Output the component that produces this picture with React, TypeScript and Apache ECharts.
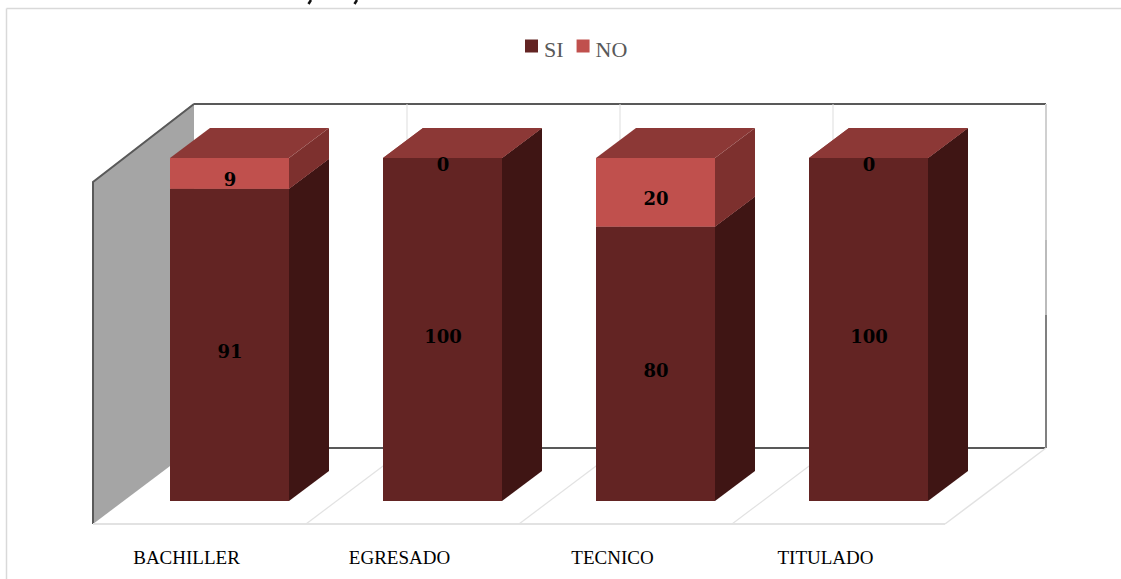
import React, { useEffect, useRef } from "react";
import * as echarts from "echarts";

const categories = ["BACHILLER", "EGRESADO", "TECNICO", "TITULADO"];
const siValues = [91, 100, 80, 100];
const noValues = [9, 0, 20, 0];

const DX = 40;
const DY = -30;
const BAR_RATIO = 119 / 213;

const COLORS = {
  si: { front: "#632423", side: "#3f1514", top: "#8f3b3a" },
  no: { front: "#c0504d", side: "#7d302e", top: "#8c3836" },
};

function makeRender(palette: { front: string; side: string; top: string }) {
  return (_params: any, api: any) => {
    const i = api.value(0);
    const start = api.value(1);
    const end = api.value(2);
    const [cx, y0] = api.coord([i, start]);
    const [, y1] = api.coord([i, end]);
    const w = api.size([1, 0])[0] * BAR_RATIO;
    const x0 = cx - w / 2;
    const x1 = cx + w / 2;
    const children: any[] = [
      {
        type: "rect",
        shape: { x: x0, y: y1, width: w, height: y0 - y1 },
        style: { fill: palette.front },
      },
      {
        type: "polygon",
        shape: { points: [[x1, y1], [x1 + DX, y1 + DY], [x1 + DX, y0 + DY], [x1, y0]] },
        style: { fill: palette.side },
      },
      {
        type: "polygon",
        shape: { points: [[x0, y1], [x0 + DX, y1 + DY], [x1 + DX, y1 + DY], [x1, y1]] },
        style: { fill: palette.top },
      },
      {
        type: "text",
        z2: 10,
        style: {
          x: cx + 0.5,
          y: (y0 + y1) / 2 + 6.5,
          text: String(end - start),
          fill: "#000",
          font: 'bold 18px "DejaVu Serif"',
          align: "center",
          verticalAlign: "middle",
        },
      },
    ];
    return { type: "group", children };
  };
}

const siData = siValues.map((v, i) => [i, 0, v]);
const noData = noValues.map((v, i) => [i, siValues[i], siValues[i] + v]);

export default function App() {
  const ref = useRef<HTMLDivElement>(null);
  useEffect(() => {
    document.body.style.margin = "0";
    const chart = echarts.init(ref.current!, null, { renderer: "svg" });
    const dark = "#595959";
    const light = "#e2e2e2";
    const divisions = [407, 620, 833];
    const g: any[] = [
      // outer frame
      { type: "line", shape: { x1: 6.5, y1: 8.5, x2: 1121, y2: 8.5 }, style: { stroke: "#d9d9d9", lineWidth: 1.5 } },
      { type: "line", shape: { x1: 6.5, y1: 8.5, x2: 6.5, y2: 579 }, style: { stroke: "#d9d9d9", lineWidth: 1.5 } },
      // clipped strokes of the cropped heading above the frame
      { type: "line", shape: { x1: 311, y1: 0, x2: 308.5, y2: 4 }, style: { stroke: "#111", lineWidth: 2.5 } },
      { type: "line", shape: { x1: 357, y1: 0, x2: 354.5, y2: 4 }, style: { stroke: "#111", lineWidth: 2.5 } },
      // left wall
      { type: "polygon", shape: { points: [[93, 182], [194, 103], [194, 448], [93, 524]] }, style: { fill: "#a5a5a5" } },
      { type: "polyline", shape: { points: [[93, 524], [93, 182], [194, 104]] }, style: { stroke: dark, lineWidth: 2, fill: "none" } },
      // back wall
      { type: "line", shape: { x1: 194, y1: 104, x2: 1046, y2: 104 }, style: { stroke: dark, lineWidth: 2 } },
      { type: "line", shape: { x1: 194, y1: 448, x2: 1046, y2: 448 }, style: { stroke: dark, lineWidth: 2 } },
      { type: "line", shape: { x1: 1046, y1: 104, x2: 1046, y2: 240 }, style: { stroke: "#d0d0d0", lineWidth: 2 } },
      { type: "line", shape: { x1: 1046, y1: 240, x2: 1046, y2: 315 }, style: { stroke: "#bbbbbb", lineWidth: 2 } },
      { type: "line", shape: { x1: 1046, y1: 315, x2: 1046, y2: 448 }, style: { stroke: "#808080", lineWidth: 2 } },
      // floor
      { type: "line", shape: { x1: 93, y1: 524, x2: 945, y2: 524 }, style: { stroke: light, lineWidth: 2 } },
      { type: "line", shape: { x1: 945, y1: 524, x2: 1046, y2: 448 }, style: { stroke: light, lineWidth: 1.5 } },
      ...divisions.flatMap((x) => [
        { type: "line", shape: { x1: x, y1: 104, x2: x, y2: 448 }, style: { stroke: "#dddddd", lineWidth: 1 } },
        { type: "line", shape: { x1: x - 101, y1: 524, x2: x, y2: 448 }, style: { stroke: light, lineWidth: 1.2 } },
      ]),
    ].map((e) => ({ ...e, z: 0, silent: true }));

    chart.setOption({
      animation: false,
      backgroundColor: "#ffffff",
      legend: {
        top: 38,
        left: 525,
        padding: 0,
        itemWidth: 13,
        itemHeight: 13,
        itemGap: 13,
        icon: "rect",
        data: ["SI", "NO"],
        formatter: "{t|{name}}",
        textStyle: {
          rich: {
            t: { color: "#595959", fontFamily: "Liberation Serif", fontSize: 22, padding: [6, 0, 0, 1] },
          },
        },
      },
      grid: [
        { left: 123, width: 852, top: 158, height: 343 },
        { left: 80, width: 852, top: 158, height: 388 },
      ],
      xAxis: [
        { type: "category", gridIndex: 0, data: categories, axisLine: { show: false }, axisTick: { show: false }, axisLabel: { show: false }, splitLine: { show: false } },
        {
          type: "category",
          gridIndex: 1,
          data: categories,
          axisLine: { show: false },
          axisTick: { show: false },
          splitLine: { show: false },
          axisLabel: { color: "#000", fontFamily: "Liberation Serif", fontSize: 19, margin: 2 },
        },
      ],
      yAxis: [
        { type: "value", gridIndex: 0, min: 0, max: 100, show: false },
        { type: "value", gridIndex: 1, min: 0, max: 100, show: false },
      ],
      graphic: { elements: g },
      series: [
        {
          name: "SI",
          type: "custom",
          xAxisIndex: 0,
          yAxisIndex: 0,
          renderItem: makeRender(COLORS.si),
          itemStyle: { color: COLORS.si.front },
          data: siData,
          encode: { x: 0, y: [1, 2] },
          clip: false,
          z: 3,
        },
        {
          name: "NO",
          type: "custom",
          xAxisIndex: 0,
          yAxisIndex: 0,
          renderItem: makeRender(COLORS.no),
          itemStyle: { color: COLORS.no.front },
          data: noData,
          encode: { x: 0, y: [1, 2] },
          clip: false,
          z: 4,
        },
      ],
    });
    return () => chart.dispose();
  }, []);
  return <div ref={ref} style={{ width: 1121, height: 579 }} />;
}
